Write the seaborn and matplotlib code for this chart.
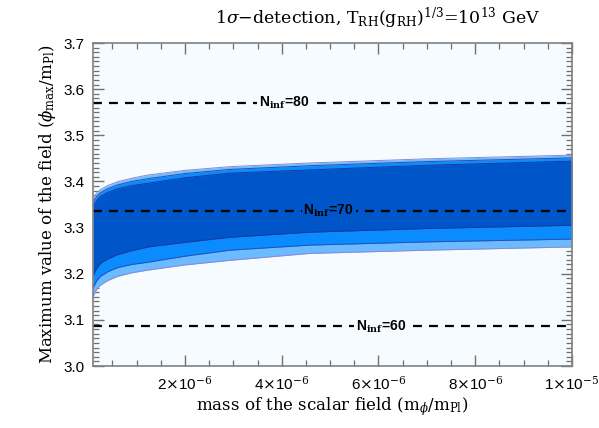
import numpy as np
import pandas as pd
import matplotlib
matplotlib.use("Agg")
import matplotlib.pyplot as plt
import seaborn as sns
from matplotlib.ticker import MultipleLocator, FixedLocator

# ---------------- data ----------------
mass = np.array([0.1, 0.13, 0.18, 0.25, 0.4, 0.6, 0.9, 1.24, 2.0, 2.93, 4.58, 7.0, 10.0]) * 1e-6
light_top = [3.362, 3.368, 3.375, 3.382, 3.391, 3.399, 3.407, 3.414, 3.424, 3.432, 3.440, 3.449, 3.457]
mid_top   = [3.354, 3.360, 3.368, 3.375, 3.384, 3.392, 3.400, 3.406, 3.417, 3.426, 3.434, 3.443, 3.451]
dark_top  = [3.345, 3.351, 3.359, 3.367, 3.376, 3.384, 3.391, 3.396, 3.408, 3.418, 3.425, 3.435, 3.444]
dark_bot  = [3.195, 3.202, 3.212, 3.222, 3.232, 3.241, 3.250, 3.258, 3.268, 3.279, 3.290, 3.298, 3.305]
mid_bot   = [3.168, 3.175, 3.185, 3.194, 3.204, 3.213, 3.220, 3.225, 3.238, 3.251, 3.262, 3.269, 3.275]
light_bot = [3.150, 3.157, 3.167, 3.175, 3.185, 3.194, 3.202, 3.208, 3.219, 3.229, 3.244, 3.251, 3.258]

n_inf_levels = [80, 70, 60]
n_inf_phi = [3.57, 3.336, 3.086]
n_inf_label_x = [4.05e-6, 4.97e-6, 6.05e-6]

x_ticks = [2e-6, 4e-6, 6e-6, 8e-6, 1e-5]
x_tick_labels = [r"2$\times$10$^{-6}$", r"4$\times$10$^{-6}$", r"6$\times$10$^{-6}$",
                 r"8$\times$10$^{-6}$", r"1$\times$10$^{-5}$"]
y_ticks = [3.0, 3.1, 3.2, 3.3, 3.4, 3.5, 3.6, 3.7]
y_tick_labels = ["3.0", "3.1", "3.2", "3.3", "3.4", "3.5", "3.6", "3.7"]

# ---------------- style ----------------
sns.set_theme(style="ticks")
plt.rcParams["font.family"] = ["DejaVu Serif"]
plt.rcParams["mathtext.fontset"] = "dejavuserif"
plt.rcParams["text.color"] = "black"
plt.rcParams["axes.labelcolor"] = "black"

W, H = 599, 428
fig = plt.figure(figsize=(W / 100, H / 100), dpi=100)
fig.patch.set_facecolor("white")
ax = fig.add_axes([93 / W, 1 - 366 / H, (572 - 93) / W, (366 - 43) / H])
ax.set_facecolor("#f5fbff")

c_light = "#6cbaff"
c_mid = "#0a8cff"
c_dark = "#0055c8"

ax.fill_between(mass, light_bot, light_top, color=c_light, lw=0, zorder=1)
ax.fill_between(mass, mid_bot, mid_top, color=c_mid, lw=0, zorder=2)
ax.fill_between(mass, dark_bot, dark_top, color=c_dark, lw=0, zorder=3)

df = pd.DataFrame({"m": mass, "lt": light_top, "lb": light_bot,
                   "mt": mid_top, "mb": mid_bot, "dt": dark_top, "db": dark_bot})
for col, colr in [("lt", "#8a8ad0"), ("lb", "#8a8ad0"), ("mt", "#2a50b0"),
                  ("mb", "#2a50b0"), ("dt", "#1a3a9a"), ("db", "#1a3a9a")]:
    sns.lineplot(data=df, x="m", y=col, ax=ax, color=colr, lw=0.7, zorder=4)

for lev, phi, lx in zip(n_inf_levels, n_inf_phi, n_inf_label_x):
    ax.axhline(phi, color="black", lw=1.6, ls=(0, (4, 3.2)), zorder=5)
    ax.text(lx, phi, r"N$_{\mathbf{inf}}$=" + str(lev), ha="center", va="center",
            fontsize=10, family="Liberation Sans", fontweight="bold", color="black", zorder=6,
            bbox=dict(boxstyle="square,pad=0.12",
                      fc=(c_dark if lev == 70 else "#f5fbff"), ec="none"))

ax.set_xlim(1e-7, 1e-5)
ax.set_ylim(3.0, 3.7)
ax.xaxis.set_major_locator(FixedLocator(x_ticks))
ax.set_xticklabels(x_tick_labels)
ax.xaxis.set_minor_locator(MultipleLocator(0.5e-6))
ax.yaxis.set_major_locator(FixedLocator(y_ticks))
ax.set_yticklabels(y_tick_labels)
ax.yaxis.set_minor_locator(MultipleLocator(0.01))

for lab in ax.get_xticklabels() + ax.get_yticklabels():
    lab.set_family("Liberation Sans")
    lab.set_fontsize(11)

ax.tick_params(which="both", direction="in", top=True, right=True, color="#707070",
               labelcolor="black")
ax.tick_params(which="major", length=8, width=1.0, pad=6)
ax.tick_params(which="minor", length=4.5, width=0.9)
for s in ax.spines.values():
    s.set_color("#808080")
    s.set_linewidth(1.2)
    s.set_zorder(10)

ax.set_xlabel(r"mass of the scalar field (m$_{\phi}$/m$_{\rm Pl}$)", fontsize=12, labelpad=2)
ax.set_ylabel(r"Maximum value of the field ($\phi_{\rm max}$/m$_{\rm Pl}$)", fontsize=12, labelpad=4)
fig.text(378 / W, 1 - 18 / H,
         r"1$\sigma$$-$detection, T$_{\rm RH}$(g$_{\rm RH}$)$^{1/3}$=10$^{13}$ GeV",
         ha="center", va="center", fontsize=12.5)

fig.savefig("out.png", dpi=100)
